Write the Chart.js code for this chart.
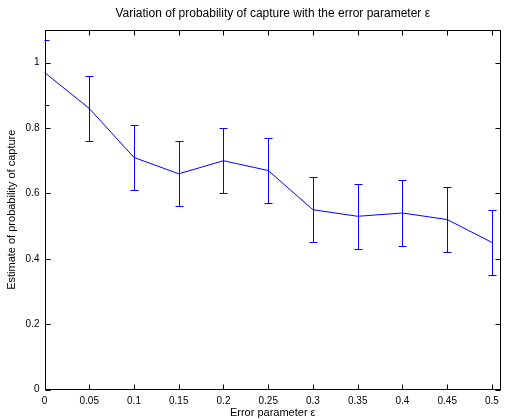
<!DOCTYPE html>
<html><head><meta charset="utf-8">
<script src="https://cdn.jsdelivr.net/npm/chart.js@4"></script>
<style>html,body{margin:0;padding:0;background:#fff}#wrap{width:505px;height:420px}</style>
</head><body><div id="wrap"><canvas id="c" width="505" height="420"></canvas></div>
<script>
const epsilon = [0, 0.05, 0.1, 0.15, 0.2, 0.25, 0.3, 0.35, 0.4, 0.45, 0.5];
const probCapture = [0.97, 0.86, 0.71, 0.66, 0.70, 0.67, 0.55, 0.53, 0.54, 0.52, 0.45];
const errorHalf = [0.10, 0.10, 0.10, 0.10, 0.10, 0.10, 0.10, 0.10, 0.10, 0.10, 0.10];
const xTickValues = [0, 0.05, 0.1, 0.15, 0.2, 0.25, 0.3, 0.35, 0.4, 0.45, 0.5];
const yTickValues = [0, 0.2, 0.4, 0.6, 0.8, 1];
const titleText = 'Variation of probability of capture with the error parameter \u03B5';
const xTitle = 'Error parameter \u03B5';
const yTitle = 'Estimate of probability of capture';

const FONT = "'Liberation Sans', Arial, Helvetica, sans-serif";
Chart.defaults.font.family = FONT;
Chart.defaults.color = '#000';

const fmt = v => String(+(+v).toFixed(2));

const errorBarPlugin = {
  id: 'errbars',
  afterDatasetsDraw(chart) {
    const {ctx, chartArea: a, scales: {x, y}} = chart;
    ctx.save();
    ctx.beginPath();
    ctx.rect(a.left, a.top, a.right - a.left, a.bottom - a.top);
    ctx.clip();
    ctx.strokeStyle = '#0000ff';
    ctx.lineWidth = 1;
    epsilon.forEach((e, i) => {
      const px = Math.round(x.getPixelForValue(e)) + 0.5;
      const top = Math.round(y.getPixelForValue(probCapture[i] + errorHalf[i])) + 0.5;
      const bot = Math.round(y.getPixelForValue(probCapture[i] - errorHalf[i])) + 0.5;
      ctx.beginPath();
      ctx.moveTo(px, top); ctx.lineTo(px, bot);
      ctx.moveTo(px - 4, top); ctx.lineTo(px + 4, top);
      ctx.moveTo(px - 4, bot); ctx.lineTo(px + 4, bot);
      ctx.stroke();
    });
    ctx.restore();
  }
};

const framePlugin = {
  id: 'frame',
  afterDraw(chart) {
    const {ctx, chartArea: a, scales: {x, y}} = chart;
    const L = Math.round(a.left) + 0.5, R = Math.round(a.right) - 0.5;
    const T = Math.round(a.top) + 0.5, B = Math.round(a.bottom) - 0.5;
    ctx.save();
    ctx.strokeStyle = '#000';
    ctx.lineWidth = 1;
    ctx.strokeRect(L, T, R - L, B - T);
    const tl = 5;
    ctx.beginPath();
    x.ticks.forEach(t => {
      const px = Math.round(x.getPixelForValue(t.value)) + 0.5;
      ctx.moveTo(px, B); ctx.lineTo(px, B - tl);
      ctx.moveTo(px, T); ctx.lineTo(px, T + tl);
    });
    y.ticks.forEach(t => {
      const py = Math.round(y.getPixelForValue(t.value)) + 0.5;
      ctx.moveTo(L, py); ctx.lineTo(L + tl, py);
      ctx.moveTo(R, py); ctx.lineTo(R - tl, py);
    });
    ctx.stroke();
    ctx.fillStyle = '#000';
    ctx.font = '12px ' + FONT;
    ctx.textAlign = 'center';
    ctx.textBaseline = 'middle';
    ctx.fillText(titleText, (a.left + a.right) / 2, 14);
    ctx.restore();
  }
};

new Chart(document.getElementById('c'), {
  type: 'line',
  data: {
    datasets: [{
      data: epsilon.map((e, i) => ({x: e, y: probCapture[i]})),
      borderColor: '#0000ff',
      borderWidth: 1,
      pointRadius: 0,
      tension: 0,
      fill: false
    }]
  },
  options: {
    responsive: false,
    animation: false,
    devicePixelRatio: 1,
    layout: {padding: {left: 0, right: 4, top: 30, bottom: 0}},
    plugins: {legend: {display: false}, title: {display: false}, tooltip: {enabled: false}},
    scales: {
      x: {
        type: 'linear', min: 0, max: 0.51,
        afterBuildTicks: s => { s.ticks = xTickValues.map(v => ({value: v})); },
        afterFit: s => { s.height = 30.5; },
        grid: {display: false, drawTicks: false},
        border: {display: false},
        ticks: {padding: 6, font: {size: 10}, maxRotation: 0, autoSkip: false, callback: v => fmt(v)},
        title: {display: true, text: xTitle, font: {size: 11}, padding: {top: 0, bottom: 0}}
      },
      y: {
        type: 'linear', min: 0, max: 1.1,
        afterBuildTicks: s => { s.ticks = yTickValues.map(v => ({value: v})); },
        afterFit: s => { s.width = 44.5; },
        grid: {display: false, drawTicks: false},
        border: {display: false},
        ticks: {padding: 5, font: {size: 10}, autoSkip: false, callback: v => fmt(v)},
        title: {display: true, text: yTitle, font: {size: 11}, padding: {top: 5, bottom: 0}}
      }
    }
  },
  plugins: [errorBarPlugin, framePlugin]
});
</script>
</body></html>
